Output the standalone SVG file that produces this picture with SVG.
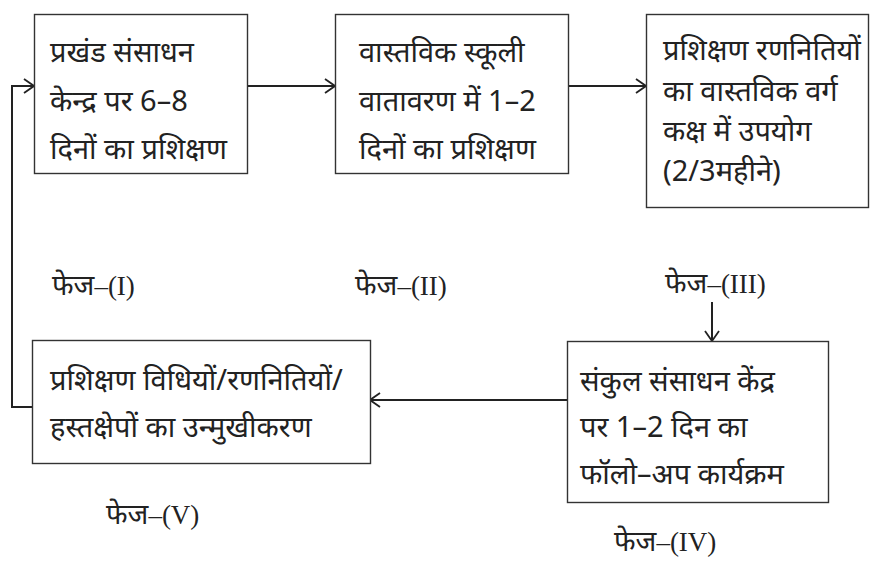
<svg xmlns="http://www.w3.org/2000/svg" width="870" height="561" viewBox="0 0 870 561">
<defs>
<style>
.box{fill:#fff;stroke:#333;stroke-width:1.4}
.t{font-family:"Noto Sans","Noto Sans CJK SC",sans-serif;font-size:29px;fill:#222}
.ph{font-family:"Liberation Serif","Noto Sans",serif;font-size:27px;fill:#222}
.dv{font-family:"Noto Sans",sans-serif;font-size:28px}
.c{fill:none;stroke:#222;stroke-width:2}
</style>
<marker id="ah" markerWidth="12" markerHeight="16" refX="11" refY="8" orient="auto" markerUnits="userSpaceOnUse">
<path d="M1,1 L11,8 L1,15" fill="none" stroke="#222" stroke-width="1.8"/>
</marker>
</defs>
<rect width="870" height="561" fill="#fff"/>
<g id="connectors">
<path class="c" d="M247,86 H335" marker-end="url(#ah)"/>
<path class="c" d="M568,86 H646" marker-end="url(#ah)"/>
<path class="c" d="M712,302 V341" marker-end="url(#ah)"/>
<path class="c" d="M567,400 H370" marker-end="url(#ah)"/>
<path class="c" d="M32,407 H12 V86 H34" marker-end="url(#ah)"/>
</g>
<g id="n1">
<rect class="box" x="34.5" y="14.5" width="213" height="159"/>
<text class="t" x="50" y="62">प्रखंड संसाधन</text>
<text class="t" x="50" y="111">केन्द्र पर 6–8</text>
<text class="t" x="50" y="159">दिनों का प्रशिक्षण</text>
</g>
<g id="n2">
<rect class="box" x="335.5" y="14.5" width="233" height="159"/>
<text class="t" x="359" y="62">वास्तविक स्कूली</text>
<text class="t" x="359" y="111">वातावरण में 1–2</text>
<text class="t" x="359" y="159">दिनों का प्रशिक्षण</text>
</g>
<g id="n3">
<rect class="box" x="646.5" y="14.5" width="222" height="193"/>
<text class="t" x="663" y="60">प्रशिक्षण रणनितियों</text>
<text class="t" x="663" y="101">का वास्तविक वर्ग</text>
<text class="t" x="663" y="141">कक्ष में उपयोग</text>
<text class="t" x="663" y="181">(2/3महीने)</text>
</g>
<g id="n4">
<rect class="box" x="567.5" y="341.5" width="261" height="161"/>
<text class="t" x="580" y="391">संकुल संसाधन केंद्र</text>
<text class="t" x="580" y="437">पर 1–2 दिन का</text>
<text class="t" x="580" y="484">फॉलो–अप कार्यक्रम</text>
</g>
<g id="n5">
<rect class="box" x="32.5" y="340.5" width="338" height="123"/>
<text class="t" x="50" y="390">प्रशिक्षण विधियों/रणनितियों/</text>
<text class="t" x="50" y="437">हस्तक्षेपों का उन्मुखीकरण</text>
</g>
<g id="labels">
<text class="ph" x="52" y="295"><tspan class="dv">फेज</tspan>–(I)</text>
<text class="ph" x="355" y="295"><tspan class="dv">फेज</tspan>–(II)</text>
<text class="ph" x="665" y="293"><tspan class="dv">फेज</tspan>–(III)</text>
<text class="ph" x="106" y="524"><tspan class="dv">फेज</tspan>–(V)</text>
<text class="ph" x="614" y="551"><tspan class="dv">फेज</tspan>–(IV)</text>
</g>
</svg>
